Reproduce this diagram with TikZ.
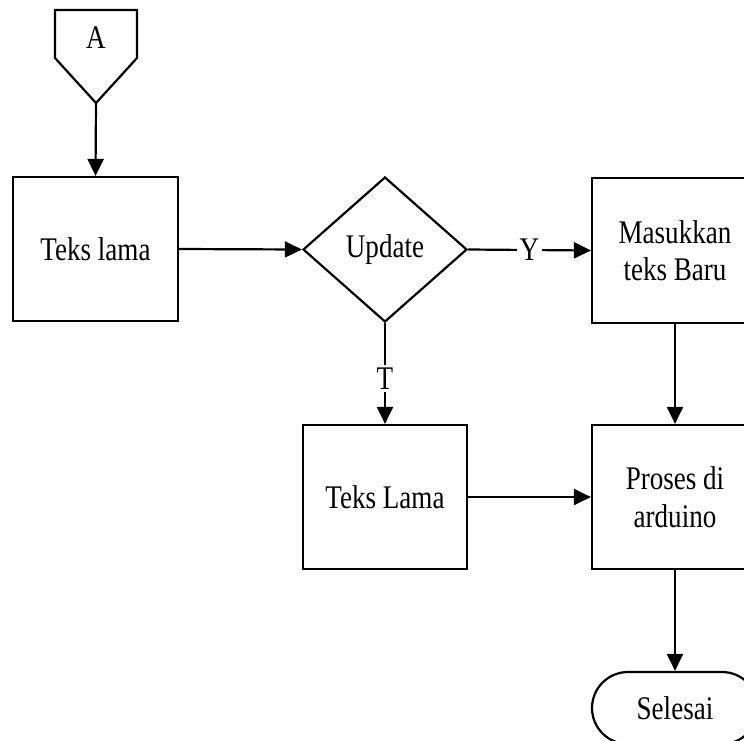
\documentclass[tikz,border=0pt]{standalone}
\usepackage{fontspec}
\setmainfont[FakeStretch=0.82]{Liberation Serif}
\usetikzlibrary{shapes.geometric,shapes.misc,arrows.meta}
\begin{document}
\begin{tikzpicture}[x=1pt,y=-1pt,
  line width=2.2pt,
  every node/.style={font=\fontsize{33}{37.5}\selectfont},
  proc/.style={draw,rectangle,minimum width=165pt,minimum height=144pt,inner sep=0pt,align=center},
  decision/.style={draw,diamond,minimum width=164pt,minimum height=145pt,inner sep=0pt},
  term/.style={draw,rounded rectangle,minimum width=166pt,minimum height=72pt,inner sep=0pt},
  flow/.style={-{Triangle[length=17pt,width=16pt]}},
  lbl/.style={fill=white,inner sep=3pt}]
\useasboundingbox (0,0) rectangle (744,740);
\clip (0,0) rectangle (744,740);
% off-page connector
\draw (55,10) -- (137,10) -- (137,58) -- (96,103) -- (55,58) -- cycle;
\node (conA) at (96,38) {A};
\coordinate (conAtip) at (96,103);
% process boxes
\node[proc] (teksA) at (95.5,249) {Teks lama};
\node[decision] (upd) at (385,249.5) {Update};
\node[proc,minimum width=166pt,minimum height=145pt] (baru) at (675,250.5) {Masukkan\\teks Baru};
\node[proc,minimum width=164pt] (teksB) at (385,497) {Teks Lama};
\node[proc,minimum width=166pt] (proses) at (675,497) {Proses di\\arduino};
\node[term] (selesai) at (675,708) {Selesai};
% connectors
\draw[flow] (conAtip) -- (teksA.north);
\draw[flow] (teksA.east) -- (upd.west);
\draw[flow] (upd.east) -- node[lbl] {Y} (baru.west);
\draw[flow] (upd.south) -- node[lbl,pos=0.55] {T} (teksB.north);
\draw[flow] (baru.south) -- (proses.north);
\draw[flow] (teksB.east) -- (proses.west);
\draw[flow] (proses.south) -- (selesai.north);
\end{tikzpicture}
\end{document}
